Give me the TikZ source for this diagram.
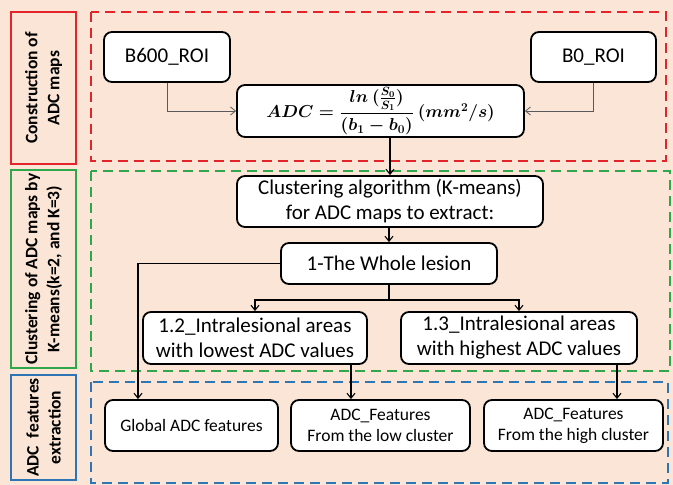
\documentclass[tikz,border=0pt]{standalone}
\usepackage{amsmath}
\usepackage{fontspec}
\setmainfont{Carlito}
\usetikzlibrary{arrows.meta}
\definecolor{peach}{HTML}{FBE5D6}
\definecolor{myred}{HTML}{E3242B}
\definecolor{mygreen}{HTML}{2EA84A}
\definecolor{myblue}{HTML}{2E75B6}
\begin{document}
\begin{tikzpicture}[x=1pt,y=-1pt,
  box/.style={draw=black,line width=1.8pt,rounded corners=8pt,fill=white,align=center,inner sep=0pt},
  lbl/.style={line width=2pt,fill=none},
  dbox/.style={line width=2.5pt,dash pattern=on 10pt off 6pt},
  vlab/.style={rotate=90,align=center,font=\fontsize{17.5}{22}\selectfont\bfseries},
  big/.style={font=\fontsize{21}{25}\selectfont},
  small/.style={font=\fontsize{17.5}{21}\selectfont},
  conn/.style={line width=1.1pt,-{Straight Barb[length=5pt,width=8pt]}},
  gconn/.style={line width=0.8pt,draw=black!65,-{Straight Barb[length=5pt,width=8pt]}}]
\useasboundingbox (0,0) rectangle (673,485);
\fill[peach] (0,0) rectangle (673,485);
% left label boxes
\draw[lbl,draw=myred] (11,12) rectangle (76,164);
\node[vlab] (lab1) at (43.5,88) {Construction of\\ADC maps};
\draw[lbl,draw=mygreen] (11,170) rectangle (76,368);
\node[vlab] (lab2) at (43.5,269) {Clustering of ADC maps by\\K-means(k=2, and K=3)};
\draw[lbl,draw=myblue] (11,375) rectangle (76,480);
\node[vlab] (lab3) at (43.5,427.5) {ADC\ \ features\\extraction};
% dashed group boxes
\draw[dbox,draw=myred] (91,12) rectangle (666,161);
\draw[dbox,draw=mygreen] (91,171) rectangle (670,371);
\draw[dbox,draw=myblue] (91,382) rectangle (668,483);
% nodes
\node[box,big,minimum width=126pt,minimum height=50pt] (b600) at (167,57) {B600\_ROI};
\node[box,big,minimum width=125pt,minimum height=50pt] (b0) at (593.5,57) {B0\_ROI};
\node[box,minimum width=287pt,minimum height=52pt,font=\fontsize{17.5}{20}\selectfont\boldmath] (adc) at (380.5,111)
  {$ADC = \dfrac{ln\ (\frac{S_0}{S_1})}{(b_1 - b_0)}\ (mm^2/s)$};
\node[box,big,minimum width=306pt,minimum height=51pt] (clu) at (390,201.5)
  {Clustering algorithm (K-means)\\for ADC maps to extract:};
\node[box,big,minimum width=216pt,minimum height=41pt] (whole) at (389,263.5) {1-The Whole lesion};
\node[box,big,minimum width=224pt,minimum height=52pt] (low) at (255,338)
  {1.2\_Intralesional areas\\with lowest ADC values};
\node[box,big,minimum width=236pt,minimum height=52pt] (high) at (519,338)
  {1.3\_Intralesional areas\\with highest ADC values};
\node[box,small,minimum width=173pt,minimum height=51pt] (glob) at (191.5,425.5) {Global ADC features};
\node[box,small,minimum width=179pt,minimum height=51pt] (flow) at (380.5,425.5) {ADC\_Features\\From the low cluster};
\node[box,small,minimum width=179pt,minimum height=51pt] (fhigh) at (573.5,425.5) {ADC\_Features\\From the high cluster};
% connectors
\draw[gconn] (b600.south) |- (adc.west);
\draw[gconn] (b0.south) |- (adc.east);
\draw[conn] (adc.south -| clu.north) -- (clu.north);
\draw[conn] (clu.south -| whole.north) -- (whole.north);
\coordinate (split) at (whole.south |- 0,300);
\draw[line width=1.1pt] (whole.south) -- (split);
\draw[conn] (split) -| (low.north);
\draw[conn] (split) -| (high.north);
\draw[conn] (whole.west) -| (glob.north -| 138,0);
\draw[conn] (low.south -| 351,0) -- (flow.north -| 351,0);
\draw[conn] (high.south -| 617,0) -- (fhigh.north -| 617,0);
\end{tikzpicture}
\end{document}
